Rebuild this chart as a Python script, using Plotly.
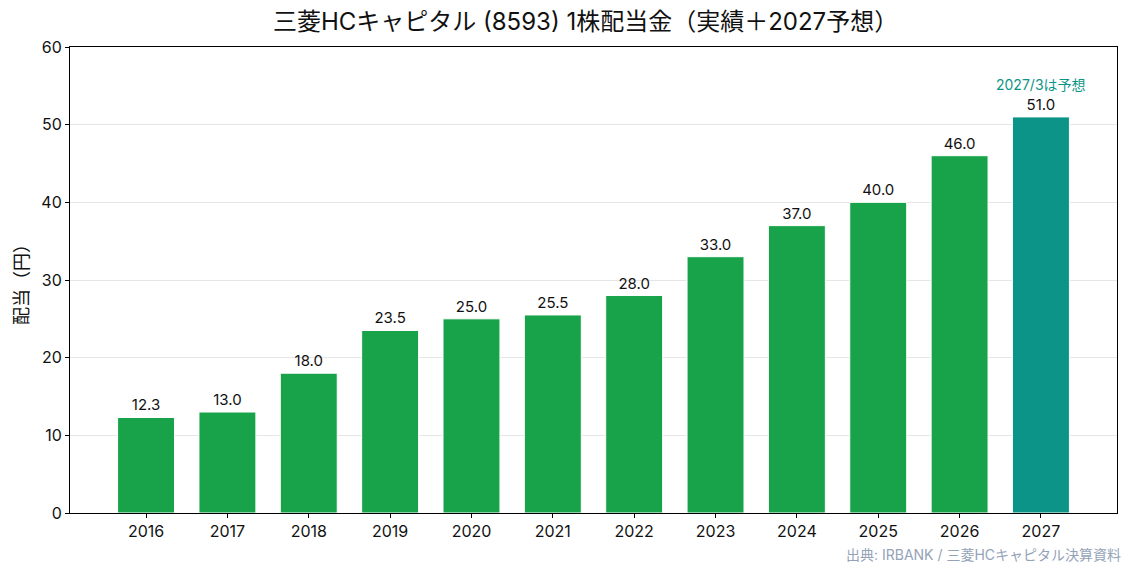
import plotly.graph_objects as go

years = ["2016", "2017", "2018", "2019", "2020", "2021", "2022", "2023", "2024", "2025", "2026", "2027"]
dividends = [12.3, 13.0, 18.0, 23.5, 25.0, 25.5, 28.0, 33.0, 37.0, 40.0, 46.0, 51.0]
is_forecast = [False] * 11 + [True]

GREEN = "#18a34a"
TEAL = "#0d9488"
FONT = "Inter, Noto Sans CJK JP"

colors = [TEAL if f else GREEN for f in is_forecast]

fig = go.Figure()
fig.add_trace(go.Bar(
    x=years,
    y=dividends,
    width=0.7,
    marker=dict(color=colors, line=dict(color="white", width=1)),
    text=[f"{v:.1f}" for v in dividends],
    textposition="outside",
    textfont=dict(family=FONT, size=15, color="#111111"),
    cliponaxis=False,
    hoverinfo="x+y",
))

fig.add_annotation(
    x=11, y=55.2, xref="x", yref="y",
    text="2027/3は予想", showarrow=False,
    font=dict(family=FONT, size=14, color=TEAL),
)

fig.add_annotation(
    x=1.0057, y=-0.09, xref="paper", yref="paper",
    xanchor="right", yanchor="middle",
    text="出典: IRBANK / 三菱HCキャピタル決算資料", showarrow=False,
    font=dict(family=FONT, size=14, color="#94a3b8"),
)

fig.update_layout(
    width=1135, height=576,
    margin=dict(l=70, r=18, t=47, b=63),
    paper_bgcolor="white", plot_bgcolor="white",
    showlegend=False,
    font=dict(family=FONT, color="#111111"),
    title=dict(
        text="三菱HCキャピタル (8593) 1株配当金（実績＋2027予想）",
        x=0.4924, xref="paper", xanchor="center",
        y=1 - 22 / 576, yref="container", yanchor="middle",
        font=dict(family=FONT, size=24, color="#111111"),
    ),
    xaxis=dict(
        type="category",
        range=[-0.935, 11.935],
        showline=True, mirror=True, linecolor="black", linewidth=1,
        ticks="outside", ticklen=4, tickcolor="black",
        tickfont=dict(family=FONT, size=16, color="#111111"),
        showgrid=False, zeroline=False,
    ),
    yaxis=dict(
        range=[0, 60],
        tickvals=[0, 10, 20, 30, 40, 50, 60],
        showline=True, mirror=True, linecolor="black", linewidth=1,
        ticks="outside", ticklen=4, tickcolor="black",
        tickfont=dict(family=FONT, size=16, color="#111111"),
        showgrid=True, gridcolor="#e6e6e6", gridwidth=1,
        zeroline=False,
        title=dict(text="配当（円）", font=dict(family=FONT, size=18, color="#111111"), standoff=8),
    ),
)

fig.write_html("out.html")
